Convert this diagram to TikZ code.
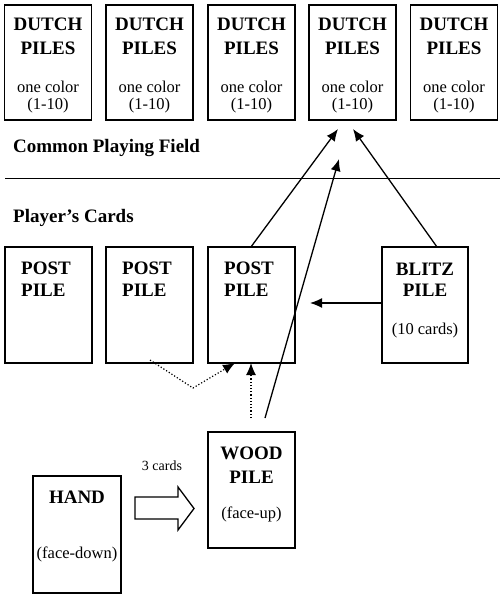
\documentclass[tikz,border=0pt]{standalone}
\usepackage{fontspec}
\setmainfont{Liberation Serif}
\usetikzlibrary{arrows.meta}
\tikzset{
  card/.style={draw, line width=1.6pt, inner sep=0pt, minimum width=87pt, minimum height=115pt},
  ttl/.style={font=\fontsize{19}{22}\selectfont\bfseries, anchor=base, inner sep=0pt},
  ttlw/.style={ttl, anchor=base west},
  sub/.style={font=\fontsize{16.5}{19}\selectfont, anchor=base, inner sep=0pt},
  small/.style={font=\fontsize{14}{16}\selectfont, anchor=base, inner sep=0pt},
  arr/.style={line width=1.3pt, -{Latex[length=12pt,width=10pt]}},
  dotarr/.style={line width=1.2pt, dotted, -{Latex[length=12pt,width=10pt]}},
}
\begin{document}
\begin{tikzpicture}[x=1pt,y=-1pt]
\useasboundingbox (0,0) rectangle (500,596);
% Dutch piles
\foreach \i/\x in {1/48,2/149.5,3/251.5,4/352.5,5/454}{
  \node[card] (d\i) at (\x,62.5) {};
  \node[ttl] (dt\i) at (\x,30.7) {DUTCH};
  \node[ttl] (dp\i) at (\x,55) {PILES};
  \node[sub] (dc\i) at (\x,92.5) {one color};
  \node[sub] (dn\i) at (\x,109.5) {(1-10)};
}
% headings and divider
\node[ttlw] (common) at (13,152.7) {Common Playing Field};
\coordinate (hl) at (5,178.5);
\coordinate (hr) at (500,178.5);
\draw[line width=1.3pt] (hl) -- (hr);
\node[ttlw] (players) at (13,222) {Player’s Cards};
% post piles
\foreach \i/\x in {1/48.5,2/149.5,3/251.5}{
  \node[card, minimum height=116pt] (p\i) at (\x,305) {};
  \node[ttlw] (pt\i) at (\x-27.5,274) {POST};
  \node[ttlw] (pp\i) at (\x-27.5,296.7) {PILE};
}
% blitz pile
\node[card, minimum height=116pt, minimum width=86pt] (b) at (425,305) {};
\node[ttl] (bt) at (425,275) {BLITZ};
\node[ttl] (bp) at (425,296.7) {PILE};
\node[sub] (bc) at (425,334) {(10 cards)};
% wood pile
\node[card, minimum height=116pt] (w) at (251.5,490) {};
\node[ttl] (wt) at (251.5,459) {WOOD};
\node[ttl] (wp) at (251.5,483) {PILE};
\node[sub] (wf) at (251.5,518) {(face-up)};
% hand
\node[card, minimum height=117pt, minimum width=88pt] (h) at (77,534.5) {};
\node[ttl] (ht) at (77,503) {HAND};
\node[sub] (hf) at (77,558) {(face-down)};
% transfer arrow
\draw[line width=1.3pt] (135,497) -- (178,497) -- (178,487) -- (194,508.5) -- (178,530) -- (178,519) -- (135,519) -- cycle;
\node[small] (three) at (162,470) {3 cards};
% connectors
\coordinate (t1) at (338,129);
\coordinate (t2) at (353,129);
\coordinate (t3) at (339,159);
\coordinate (bs) at (437,247);
\coordinate (bl) at (382,303);
\coordinate (bt2) at (310,303);
\coordinate (ws) at (265,418);
\coordinate (wd) at (251,418);
\coordinate (wdt) at (251,363);
\coordinate (ds) at (150,360);
\coordinate (dm) at (193,388);
\coordinate (dt) at (235,363);
\draw[arr] (p3.north) -- (t1);
\draw[arr] (bs) -- (t2);
\draw[arr] (ws) -- (t3);
\draw[arr] (bl) -- (bt2);
\draw[dotarr] (ds) -- (dm) -- (dt);
\draw[dotarr] (wd) -- (wdt);
\end{tikzpicture}
\end{document}
